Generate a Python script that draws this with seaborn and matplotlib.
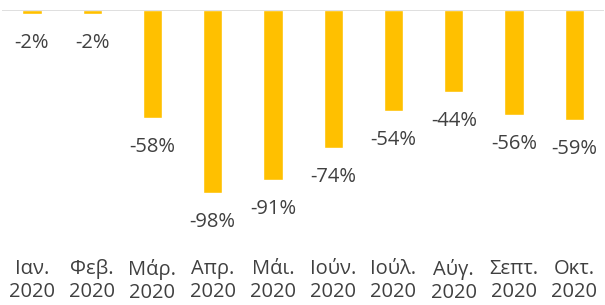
import matplotlib
matplotlib.use("Agg")
import matplotlib.pyplot as plt
import seaborn as sns
import pandas as pd

months = ["Ιαν.", "Φεβ.", "Μάρ.", "Απρ.", "Μάι.", "Ιούν.", "Ιούλ.", "Αύγ.", "Σεπτ.", "Οκτ."]
year = "2020"
values = [-2, -2, -58, -98, -91, -74, -54, -44, -56, -59]

sns.set_theme(style="white")
plt.rcParams['font.family'] = ['Open Sans', 'DejaVu Sans']

labels = [f"{m}\n{year}" for m in months]
df = pd.DataFrame({"cat": labels, "val": values})

fig = plt.figure(figsize=(6.05, 3.05), dpi=100)
ax = fig.add_axes([0.003, 0.233, 0.996, 0.734])
sns.barplot(data=df, x="cat", y="val", color="#FFC000", saturation=1, width=0.32, ax=ax)
ax.set_ylim(-120, 0)
ax.set_xlim(-0.5, len(values) - 0.5)
ax.axhline(0, color="#D9D9D9", lw=1.2, zorder=5)
for s in ax.spines.values():
    s.set_visible(False)
ax.set_yticks([])
ax.set_xlabel("")
ax.set_ylabel("")
ax.tick_params(axis="x", length=0, pad=18, labelsize=14.5, labelcolor="#404040")
for lab in ax.get_xticklabels():
    lab.set_linespacing(1.2)
for i, v in enumerate(values):
    ax.annotate(f"{v}%", (i, v), xytext=(0, -21), textcoords="offset points",
                ha="center", va="center", fontsize=14.5, color="#404040")
fig.savefig("out.png", dpi=100)
